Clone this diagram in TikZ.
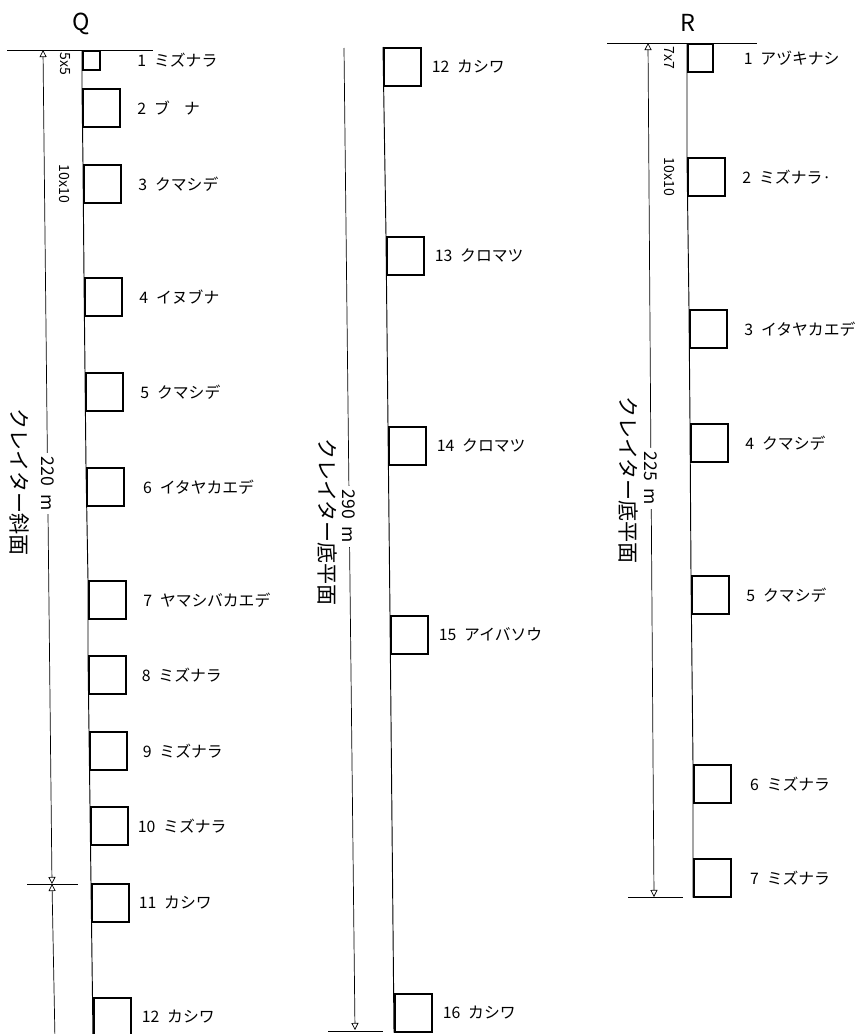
\documentclass[tikz,border=0pt]{standalone}
\usepackage{fontspec}
\setmainfont{Noto Sans CJK JP}
\usepackage{tikz}
\usetikzlibrary{positioning,arrows.meta}

\newcommand{\numgap}{\hspace{0.5em}}

\begin{document}
\begin{tikzpicture}[
  x=0.03cm, y=-0.03cm,
  quadrat/.style={draw, line width=1.3pt, inner sep=0pt, anchor=north west,
                  minimum width=1.11cm, minimum height=1.14cm},
  quadsmall/.style={quadrat, minimum width=0.51cm, minimum height=0.57cm},
  quadmid/.style={quadrat, minimum width=0.75cm, minimum height=0.84cm},
  lbl/.style={inner sep=0pt, font=\fontsize{13.5}{15}\selectfont},
  title/.style={inner sep=0pt, font=\fontsize{20}{22}\selectfont},
  size/.style={inner sep=0pt, rotate=-90, font=\fontsize{12}{14}\selectfont},
  side/.style={inner sep=0pt, rotate=-90, font=\fontsize{18}{20}\selectfont},
  len/.style={fill=white, inner sep=3pt, rotate=-90, font=\fontsize{15}{17}\selectfont},
  transect/.style={line width=0.8pt},
  ref/.style={line width=0.6pt},
  tip/.tip={Triangle[open, length=6pt, width=6pt]},
  dim/.style={line width=0.6pt}
]
\useasboundingbox (0,0) rectangle (867,1034);

% ---- Q : crater slope ----
\node[title] (qtitle) at (81,24) {Q};
\coordinate (qtopl) at (7,50);
\coordinate (qtopr) at (153,50);
\draw[ref] (qtopl) -- (qtopr);

\node[quadsmall] (q1)  at (82,50) {};
\node[quadrat]   (q2)  at (82,88) {};
\node[quadrat]   (q3)  at (83,164) {};
\node[quadrat]   (q4)  at (84,277) {};
\node[quadrat]   (q5)  at (85,372) {};
\node[quadrat]   (q6)  at (86,467) {};
\node[quadrat]   (q7)  at (88,580) {};
\node[quadrat]   (q8)  at (88,655) {};
\node[quadrat]   (q9)  at (89,731) {};
\node[quadrat]   (q10) at (90,806) {};
\node[quadrat]   (q11) at (91,883) {};
\node[quadrat]   (q12) at (93,997) {};
\draw[transect] (q1.north west) -- (q2.north west) -- (q3.north west) -- (q4.north west)
  -- (q5.north west) -- (q6.north west) -- (q7.north west) -- (q8.north west)
  -- (q9.north west) -- (q10.north west) -- (q11.north west) -- (q12.south west);

\node[lbl, right=1.1cm of q1]  (q1l)  {1\numgap ミズナラ};
\node[lbl, right=0.5cm of q2]  (q2l)  {2\numgap ブ\hspace{0.9em}ナ};
\node[lbl, right=0.5cm of q3]  (q3l)  {3\numgap クマシデ};
\node[lbl, right=0.5cm of q4]  (q4l)  {4\numgap イヌブナ};
\node[lbl, right=0.5cm of q5]  (q5l)  {5\numgap クマシデ};
\node[lbl, right=0.55cm of q6] (q6l)  {6\numgap イタヤカエデ};
\node[lbl, right=0.5cm of q7]  (q7l)  {7\numgap ヤマシバカエデ};
\node[lbl, right=0.45cm of q8] (q8l)  {8\numgap ミズナラ};
\node[lbl, right=0.45cm of q9] (q9l)  {9\numgap ミズナラ};
\node[lbl, right=0.27cm of q10] (q10l) {10\numgap ミズナラ};
\node[lbl, right=0.27cm of q11] (q11l) {11\numgap カシワ};
\node[lbl, right=0.3cm of q12]  (q12l) {12\numgap カシワ};

\node[size] (q1s) at (65,64) {5x5};
\node[size] (q2s) at (65,184) {10x10};

\coordinate (qd1) at (43,50);
\coordinate (qd2) at (52,884);
\coordinate (qd3) at (55,1040);
\coordinate (qtickl) at (27,884);
\coordinate (qtickr) at (78,884);
\draw[dim, tip-tip] (qd1) -- node[len, pos=0.52] (qlen) {220\ \ m} (qd2);
\draw[dim, tip-] (qd2) -- (qd3);
\draw[ref] (qtickl) -- (qtickr);
\node[side] (qside) at (20,482) {クレイター斜面};

% ---- crater floor (continued) ----
\node[quadrat] (m12) at (383,47) {};
\node[quadrat] (m13) at (386,236) {};
\node[quadrat] (m14) at (388,426) {};
\node[quadrat] (m15) at (390,615) {};
\node[quadrat] (m16) at (394,993) {};
\draw[transect] (m12.north west) -- (m13.north west) -- (m14.north west)
  -- (m15.north west) -- (m16.south west);

\node[lbl, right=0.3cm of m12] (m12l) {12\numgap カシワ};
\node[lbl, right=0.3cm of m13] (m13l) {13\numgap クロマツ};
\node[lbl, right=0.3cm of m14] (m14l) {14\numgap クロマツ};
\node[lbl, right=0.3cm of m15] (m15l) {15\numgap アイバソウ};
\node[lbl, right=0.3cm of m16] (m16l) {16\numgap カシワ};

\coordinate (md1) at (344,48);
\coordinate (md2) at (355,1030);
\coordinate (mtickl) at (328,1031);
\coordinate (mtickr) at (383,1031);
\draw[dim, -tip] (md1) -- node[len, pos=0.477] (mlen) {290\ \ m} (md2);
\draw[ref] (mtickl) -- (mtickr);
\node[side] (mside) at (327,522) {クレイター底平面};

% ---- R : crater floor ----
\node[title] (rtitle) at (688,23) {R};
\coordinate (rtopl) at (607,43);
\coordinate (rtopr) at (757,43);
\draw[ref] (rtopl) -- (rtopr);

\node[quadmid] (r1) at (687,43) {};
\node[quadrat] (r2) at (687,157) {};
\node[quadrat] (r3) at (689,309) {};
\node[quadrat] (r4) at (690,423) {};
\node[quadrat] (r5) at (691,575) {};
\node[quadrat] (r6) at (693,764) {};
\node[quadrat] (r7) at (693,858) {};
\draw[transect] (r1.north west) -- (r2.north west) -- (r3.north west) -- (r4.north west)
  -- (r5.north west) -- (r6.north west) -- (r7.south west);

\node[lbl, right=0.9cm of r1]  (r1l) {1\numgap アヅキナシ};
\node[lbl, right=0.5cm of r2]  (r2l) {2\numgap ミズナラ·};
\node[lbl, right=0.5cm of r3]  (r3l) {3\numgap イタヤカエデ};
\node[lbl, right=0.5cm of r4]  (r4l) {4\numgap クマシデ};
\node[lbl, right=0.5cm of r5]  (r5l) {5\numgap クマシデ};
\node[lbl, right=0.55cm of r6] (r6l) {6\numgap ミズナラ};
\node[lbl, right=0.55cm of r7] (r7l) {7\numgap ミズナラ};

\node[size] (r1s) at (670,58) {7x7};
\node[size] (r2s) at (670,177) {10x10};

\coordinate (rd1) at (648,43);
\coordinate (rd2) at (654,897);
\coordinate (rtickl) at (628,897);
\coordinate (rtickr) at (683,897);
\draw[dim, tip-tip] (rd1) -- node[len, pos=0.51] (rlen) {225\ \ m} (rd2);
\draw[ref] (rtickl) -- (rtickr);
\node[side] (rside) at (628,480) {クレイター底平面};

\end{tikzpicture}
\end{document}
